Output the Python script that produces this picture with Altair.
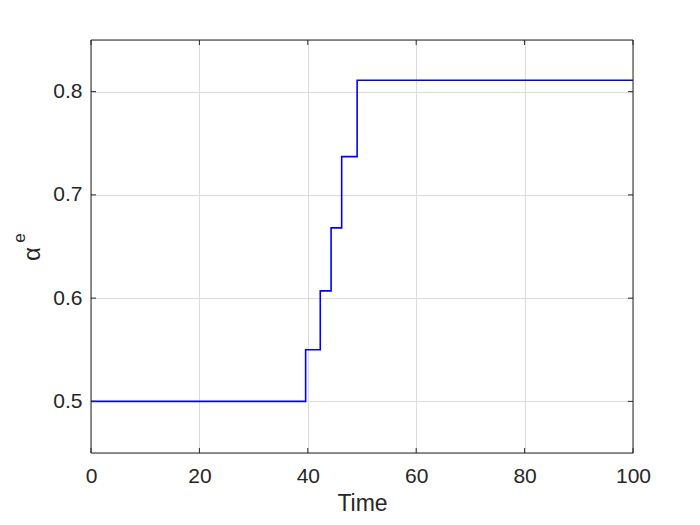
import altair as alt
import pandas as pd

# Step data: times where alpha^e jumps and the new value
times = [0, 39.6, 42.3, 44.3, 46.25, 49.1, 100]
values = [0.5, 0.55, 0.607, 0.668, 0.737, 0.811, 0.811]

x_ticks = [0, 20, 40, 60, 80, 100]
y_ticks = [0.5, 0.6, 0.7, 0.8]

W, H = 542, 413
FONT = "Liberation Sans"
TXT = "#262626"

df = pd.DataFrame({"t": times, "a": values})

xs = alt.Scale(domain=[0, 100], nice=False, zero=False)
ys = alt.Scale(domain=[0.45, 0.85], nice=False, zero=False)

line = alt.Chart(df).mark_line(interpolate="step-after", color="#0000FF", strokeWidth=1.6).encode(
    x=alt.X("t:Q", scale=xs, title="Time",
            axis=alt.Axis(values=x_ticks, grid=True, gridColor="#dcdcdc", domain=False, ticks=False,
                          labelFontSize=21, labelColor=TXT, labelFont=FONT, labelPadding=12,
                          labelFlush=False, labelOverlap=False,
                          titleFontSize=23, titleColor=TXT, titleFont=FONT, titleFontWeight="normal",
                          titlePadding=6)),
    y=alt.Y("a:Q", scale=ys, title=None,
            axis=alt.Axis(values=y_ticks, format=".1f", grid=True, gridColor="#dcdcdc", domain=False,
                          ticks=False, labelFontSize=21, labelColor=TXT, labelFont=FONT, labelPadding=9,
                          labelFlush=False, labelOverlap=False)),
)

# frame box
box = alt.Chart(pd.DataFrame({"k": [0]})).mark_rect(fill=None, stroke=TXT, strokeWidth=1).encode(
    x=alt.value(0), x2=alt.value(W), y=alt.value(0), y2=alt.value(H))

# inward ticks
xt = pd.DataFrame({"t": x_ticks})
yt = pd.DataFrame({"a": y_ticks})
xt_bot = alt.Chart(xt).mark_rule(color=TXT).encode(x=alt.X("t:Q", scale=xs), y=alt.value(H), y2=alt.value(H - 5))
xt_top = alt.Chart(xt).mark_rule(color=TXT).encode(x=alt.X("t:Q", scale=xs), y=alt.value(0), y2=alt.value(5))
yt_l = alt.Chart(yt).mark_rule(color=TXT).encode(y=alt.Y("a:Q", scale=ys), x=alt.value(0), x2=alt.value(5))
yt_r = alt.Chart(yt).mark_rule(color=TXT).encode(y=alt.Y("a:Q", scale=ys), x=alt.value(W), x2=alt.value(W - 5))

# y title alpha^e
alpha = alt.Chart(pd.DataFrame({"s": ["α"]})).mark_text(
    angle=270, fontSize=24, font=FONT, color=TXT, baseline="middle", align="center").encode(
    text="s:N", x=alt.value(-58), y=alt.value(214))
sup = alt.Chart(pd.DataFrame({"s": ["e"]})).mark_text(
    angle=270, fontSize=17, font=FONT, color=TXT, baseline="middle", align="center").encode(
    text="s:N", x=alt.value(-71), y=alt.value(198))

chart = alt.layer(line, box, xt_bot, xt_top, yt_l, yt_r, alpha, sup).properties(
    width=W, height=H,
    autosize=alt.AutoSizeParams(type="none"),
    padding={"left": 83, "top": 32, "right": 50, "bottom": 70},
).configure_view(stroke=None).configure(background="white")

chart.save("out.html", embed_options={"renderer": "svg", "actions": False})
